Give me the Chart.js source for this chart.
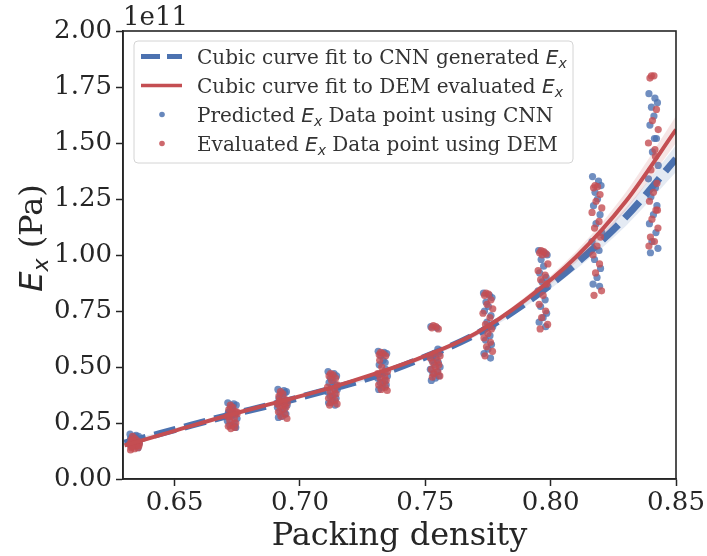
<!DOCTYPE html>
<html>
<head>
<meta charset="utf-8">
<script src="https://cdn.jsdelivr.net/npm/chart.js@4.4.1/dist/chart.umd.min.js"></script>
<style>
html,body{margin:0;padding:0;background:#fff;}
#wrap{width:707px;height:556px;}
</style>
</head>
<body>
<div id="wrap"><canvas id="c" width="707" height="556"></canvas></div>
<script>
// ---- data (values in units of 1e11 Pa) ----
const xTicks = [0.65, 0.70, 0.75, 0.80, 0.85];
const yTicks = [0, 0.25, 0.5, 0.75, 1.0, 1.25, 1.5, 1.75, 2.0];

const curveX   = [0.63, 0.65, 0.67, 0.69, 0.71, 0.73, 0.75, 0.77, 0.79, 0.81, 0.83, 0.85];
const cnnFit   = [0.16, 0.22, 0.28, 0.335, 0.395, 0.46, 0.545, 0.645, 0.785, 0.96, 1.17, 1.43];
const cnnUpper = [0.17, 0.227, 0.286, 0.341, 0.401, 0.467, 0.553, 0.655, 0.80, 0.985, 1.21, 1.49];
const cnnLower = [0.15, 0.213, 0.274, 0.329, 0.389, 0.453, 0.537, 0.635, 0.77, 0.935, 1.13, 1.37];
const demFit   = [0.15, 0.215, 0.28, 0.34, 0.40, 0.47, 0.55, 0.65, 0.80, 0.99, 1.24, 1.56];
const demUpper = [0.16, 0.222, 0.286, 0.346, 0.406, 0.477, 0.558, 0.66, 0.815, 1.015, 1.28, 1.62];
const demLower = [0.14, 0.208, 0.274, 0.334, 0.394, 0.463, 0.542, 0.64, 0.785, 0.965, 1.20, 1.50];

const packing = [0.634, 0.673, 0.693, 0.713, 0.733, 0.754, 0.775, 0.797, 0.8185, 0.841];
const jitter  = [-0.0018, 0.0006, 0.0016, -0.0008, 0.0002, -0.0014, 0.0012, -0.0004, 0.0019, -0.0020, 0.0008, -0.0010, 0.0014, 0.0000, -0.0016, 0.0010, -0.0006, 0.0018, -0.0012, 0.0004];

const cnnPoints = [
  [0.20,0.195,0.19,0.185,0.18,0.175,0.17,0.165,0.16,0.155,0.15,0.145,0.14,0.19,0.18,0.17],
  [0.34,0.335,0.33,0.32,0.31,0.30,0.29,0.28,0.27,0.26,0.25,0.24,0.23,0.325,0.295,0.235],
  [0.40,0.395,0.39,0.38,0.37,0.36,0.35,0.34,0.33,0.32,0.31,0.30,0.29,0.28,0.275,0.385],
  [0.48,0.47,0.46,0.45,0.44,0.43,0.42,0.41,0.40,0.39,0.38,0.37,0.36,0.35,0.34,0.33],
  [0.57,0.565,0.56,0.55,0.53,0.51,0.49,0.47,0.46,0.45,0.44,0.43,0.42,0.41,0.40,0.52],
  [0.68,0.675,0.56,0.55,0.54,0.53,0.52,0.51,0.50,0.49,0.48,0.47,0.46,0.45,0.44,0.58],
  [0.83,0.82,0.81,0.79,0.77,0.75,0.73,0.70,0.68,0.66,0.64,0.62,0.60,0.58,0.56,0.54],
  [1.02,1.01,1.00,0.98,0.95,0.92,0.90,0.88,0.86,0.84,0.80,0.77,0.74,0.72,0.70,0.68],
  [1.35,1.33,1.31,1.28,1.25,1.22,1.18,1.14,1.10,1.06,1.02,0.98,0.94,0.90,0.87,0.86],
  [1.72,1.70,1.68,1.66,1.62,1.58,1.52,1.46,1.40,1.34,1.30,1.26,1.22,1.18,1.14,1.10,1.06,1.03,1.01,1.52]
];
const demPoints = [
  [0.19,0.18,0.175,0.17,0.165,0.16,0.155,0.15,0.145,0.14,0.135,0.13,0.16,0.17,0.15,0.14],
  [0.33,0.32,0.31,0.30,0.295,0.29,0.28,0.27,0.26,0.25,0.24,0.235,0.23,0.225,0.30,0.28],
  [0.39,0.38,0.37,0.355,0.345,0.34,0.335,0.33,0.325,0.32,0.31,0.30,0.29,0.28,0.27,0.35],
  [0.47,0.465,0.46,0.45,0.44,0.42,0.41,0.40,0.39,0.38,0.37,0.36,0.35,0.34,0.335,0.33],
  [0.565,0.56,0.555,0.55,0.50,0.48,0.47,0.46,0.45,0.44,0.43,0.42,0.41,0.40,0.395,0.53],
  [0.685,0.68,0.675,0.67,0.56,0.55,0.54,0.53,0.52,0.51,0.50,0.49,0.48,0.47,0.46,0.455],
  [0.83,0.825,0.82,0.80,0.78,0.76,0.74,0.72,0.69,0.67,0.65,0.63,0.61,0.59,0.57,0.55],
  [1.02,1.015,1.01,1.005,1.0,0.96,0.93,0.91,0.89,0.87,0.82,0.78,0.75,0.72,0.69,0.67],
  [1.31,1.305,1.30,1.27,1.24,1.21,1.19,1.15,1.12,1.08,1.04,1.00,0.96,0.92,0.84,0.82],
  [1.80,1.80,1.79,1.65,1.60,1.56,1.50,1.44,1.38,1.32,1.28,1.24,1.20,1.16,1.12,1.08,1.06,1.04,1.47,1.20]
];

// ---- build datasets ----
const BLUE = '#4C72B0', RED = '#C44E52';
function pts(groups, shift){
  const out = [];
  groups.forEach((g, i) => g.forEach((v, k) => {
    out.push({x: packing[i] + jitter[(k + shift) % jitter.length], y: v});
  }));
  return out;
}
const xy = arr => curveX.map((x, i) => ({x, y: arr[i]}));

const SERIF = '"DejaVu Serif", "Liberation Serif", serif';
const SANS = '"DejaVu Sans", sans-serif';
const INK = '#262626';

const decor = {
  id: 'decor',
  afterDraw(chart){
    const ctx = chart.ctx, a = chart.chartArea;
    ctx.save();
    // spines
    ctx.strokeStyle = INK; ctx.lineWidth = 1.6;
    ctx.strokeRect(a.left, a.top, a.right - a.left, a.bottom - a.top);
    ctx.fillStyle = INK;
    // offset text
    ctx.font = '26px ' + SERIF; ctx.textAlign = 'left'; ctx.textBaseline = 'alphabetic';
    ctx.fillText('1e11', a.left, 25);
    // x title
    ctx.font = '32px ' + SERIF; ctx.textAlign = 'center';
    ctx.fillText('Packing density', (a.left + a.right) / 2, 545);
    // y title
    ctx.save();
    ctx.translate(42, 238); ctx.rotate(-Math.PI / 2);
    drawRich(ctx, [
      {t:'E', f:'italic 32px ' + SANS},
      {t:'x', f:'italic 22px ' + SANS, dy:6},
      {t:' (Pa)', f:'32px ' + SERIF}
    ], 0, 0, 'center');
    ctx.restore();
    // legend
    const L = 134, T = 41, R = 573, B = 163;
    ctx.beginPath();
    ctx.roundRect(L, T, R - L, B - T, 4);
    ctx.fillStyle = 'rgba(255,255,255,0.85)'; ctx.fill();
    ctx.strokeStyle = '#d4d4d4'; ctx.lineWidth = 1; ctx.stroke();
    const rows = [56.5, 85.5, 114.5, 143.5];
    // handles
    ctx.lineCap = 'butt';
    ctx.strokeStyle = BLUE; ctx.lineWidth = 5; ctx.setLineDash([19, 7]);
    ctx.beginPath(); ctx.moveTo(141, rows[0]); ctx.lineTo(182, rows[0]); ctx.stroke();
    ctx.setLineDash([]);
    ctx.strokeStyle = RED; ctx.lineWidth = 3.5;
    ctx.beginPath(); ctx.moveTo(141, rows[1]); ctx.lineTo(182, rows[1]); ctx.stroke();
    ctx.fillStyle = 'rgba(76,114,176,0.85)';
    ctx.beginPath(); ctx.arc(162, rows[2], 2.8, 0, Math.PI * 2); ctx.fill();
    ctx.fillStyle = 'rgba(196,78,82,0.85)';
    ctx.beginPath(); ctx.arc(162, rows[3], 2.8, 0, Math.PI * 2); ctx.fill();
    ctx.fillStyle = '#333';
    const tf = '20px ' + SERIF, ef = 'italic 20px ' + SANS, sf = 'italic 14px ' + SANS;
    const lab = [
      [{t:'Cubic curve fit to CNN generated ', f:tf}, {t:'E', f:ef}, {t:'x', f:sf, dy:4}],
      [{t:'Cubic curve fit to DEM evaluated ', f:tf}, {t:'E', f:ef}, {t:'x', f:sf, dy:4}],
      [{t:'Predicted ', f:tf}, {t:'E', f:ef}, {t:'x', f:sf, dy:4}, {t:' Data point using CNN', f:tf}],
      [{t:'Evaluated ', f:tf}, {t:'E', f:ef}, {t:'x', f:sf, dy:4}, {t:' Data point using DEM', f:tf}]
    ];
    lab.forEach((segs, i) => drawRich(ctx, segs, 197, rows[i] + 7, 'left'));
    ctx.restore();
  }
};
function drawRich(ctx, segs, x, y, align){
  let w = 0;
  segs.forEach(s => { ctx.font = s.f; w += ctx.measureText(s.t).width; });
  let cx = align === 'center' ? x - w / 2 : x;
  ctx.textAlign = 'left'; ctx.textBaseline = 'alphabetic';
  segs.forEach(s => { ctx.font = s.f; ctx.fillText(s.t, cx, y + (s.dy || 0)); cx += ctx.measureText(s.t).width; });
}

new Chart(document.getElementById('c'), {
  type: 'scatter',
  data: {
    datasets: [
      {label:'Predicted Ex Data point using CNN', data: pts(cnnPoints, 0), backgroundColor:'rgba(76,114,176,0.8)', borderWidth:0, pointRadius:3.6, order:6},
      {label:'cnnUpper', type:'line', data: xy(cnnUpper), borderWidth:0, pointRadius:0, fill:'+1', backgroundColor:'rgba(76,114,176,0.15)', cubicInterpolationMode:'monotone', order:5},
      {label:'cnnLower', type:'line', data: xy(cnnLower), borderWidth:0, pointRadius:0, fill:false, cubicInterpolationMode:'monotone', order:5},
      {label:'Cubic curve fit to CNN generated Ex', type:'line', data: xy(cnnFit), borderColor:BLUE, borderWidth:7, borderDash:[22, 9], pointRadius:0, fill:false, cubicInterpolationMode:'monotone', order:4},
      {label:'Evaluated Ex Data point using DEM', data: pts(demPoints, 3), backgroundColor:'rgba(196,78,82,0.8)', borderWidth:0, pointRadius:3.6, order:3},
      {label:'demUpper', type:'line', data: xy(demUpper), borderWidth:0, pointRadius:0, fill:'+1', backgroundColor:'rgba(196,78,82,0.15)', cubicInterpolationMode:'monotone', order:2},
      {label:'demLower', type:'line', data: xy(demLower), borderWidth:0, pointRadius:0, fill:false, cubicInterpolationMode:'monotone', order:2},
      {label:'Cubic curve fit to DEM evaluated Ex', type:'line', data: xy(demFit), borderColor:RED, borderWidth:4, pointRadius:0, fill:false, cubicInterpolationMode:'monotone', order:1}
    ]
  },
  options: {
    responsive: false,
    animation: false,
    events: [],
    layout: {padding: {left: 0, right: 31, top: 31, bottom: 0}},
    plugins: {legend: {display: false}, tooltip: {enabled: false}},
    scales: {
      x: {
        type: 'linear', min: 0.6294, max: 0.85,
        afterBuildTicks: s => { s.ticks = xTicks.map(v => ({value: v})); },
        afterFit: s => { s.height = 77; },
        grid: {drawOnChartArea: false, drawTicks: true, tickLength: 7, tickWidth: 1.5, tickColor: INK},
        border: {display: true, color: INK, width: 1.6},
        ticks: {color: INK, font: {family: SERIF, size: 26}, padding: 2, maxRotation: 0, callback: v => v.toFixed(2)}
      },
      y: {
        type: 'linear', min: 0, max: 2,
        afterBuildTicks: s => { s.ticks = yTicks.map(v => ({value: v})); },
        afterFit: s => { s.width = 123; },
        grid: {drawOnChartArea: false, drawTicks: true, tickLength: 7, tickWidth: 1.5, tickColor: INK},
        border: {display: true, color: INK, width: 1.6},
        ticks: {color: INK, font: {family: SERIF, size: 26}, padding: 4, callback: v => v.toFixed(2)}
      }
    }
  },
  plugins: [decor]
});
</script>
</body>
</html>
